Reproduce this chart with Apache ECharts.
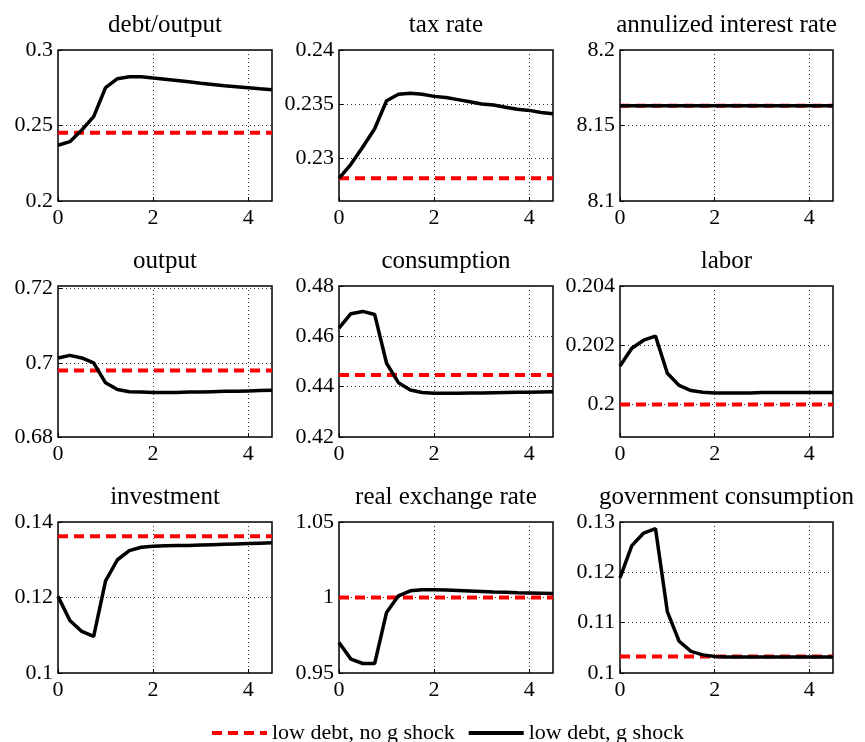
<!DOCTYPE html>
<html><head><meta charset="utf-8">
<script src="https://cdn.jsdelivr.net/npm/echarts@6/dist/echarts.min.js"></script>
<style>html,body{margin:0;padding:0;background:#fff}#c{width:865px;height:742px}</style>
</head><body><div id="c"></div>
<script>
const quarters = [0,0.25,0.5,0.75,1,1.25,1.5,1.75,2,2.25,2.5,2.75,3,3.25,3.5,3.75,4,4.25,4.5];
const panelTitles = ['debt/output','tax rate','annulized interest rate','output','consumption','labor','investment','real exchange rate','government consumption'];
const legendNames = ['low debt, no g shock','low debt, g shock'];
const xTicks = [0,2,4];

// g shock paths
const debtShock = [0.2369,0.2393,0.2470,0.2559,0.2751,0.2810,0.2823,0.2823,0.2815,0.2807,0.2798,0.2789,0.2780,0.2772,0.2764,0.2757,0.2750,0.2743,0.2737];
const taxShock = [0.2281,0.2294,0.2310,0.2327,0.2353,0.2359,0.2360,0.2359,0.2357,0.2356,0.2354,0.2352,0.2350,0.2349,0.2347,0.2345,0.2344,0.2342,0.2341];
const rateShock = [8.163,8.163,8.163,8.163,8.163,8.163,8.163,8.163,8.163,8.163,8.163,8.163,8.163,8.163,8.163,8.163,8.163,8.163,8.163];
const outputShock = [0.7013,0.7020,0.7013,0.7000,0.6946,0.6928,0.6922,0.6921,0.6920,0.6920,0.6920,0.6921,0.6921,0.6922,0.6923,0.6923,0.6924,0.6925,0.6926];
const consShock = [0.4633,0.4690,0.4699,0.4687,0.4493,0.4416,0.4387,0.4377,0.4374,0.4374,0.4374,0.4375,0.4375,0.4376,0.4377,0.4378,0.4378,0.4379,0.4380];
const laborShock = [0.2013,0.2019,0.20217,0.20231,0.20105,0.20064,0.20047,0.20041,0.20039,0.20039,0.20039,0.20039,0.2004,0.2004,0.2004,0.2004,0.2004,0.2004,0.2004];
const invShock = [0.1203,0.1139,0.1110,0.1097,0.1244,0.1300,0.1324,0.1333,0.1336,0.1337,0.1338,0.1338,0.1339,0.1340,0.1341,0.1342,0.1343,0.1344,0.1345];
const rerShock = [0.9702,0.9592,0.9563,0.9563,0.9901,1.0011,1.0044,1.0051,1.0051,1.0049,1.0046,1.0043,1.0040,1.0037,1.0035,1.0032,1.0030,1.0028,1.0026];
const govShock = [0.1189,0.1253,0.1278,0.1287,0.1122,0.1063,0.1043,0.1036,0.1033,0.1032,0.1032,0.1032,0.1032,0.1032,0.1032,0.1032,0.1032,0.1032,0.1032];

// no g shock (steady state) levels
const baseLevels = [0.2452,0.2281,8.163,0.6979,0.4446,0.2000,0.1362,1.0000,0.1033];

// y axes
const yTicks = [[0.2,0.25,0.3],[0.23,0.235,0.24],[8.1,8.15,8.2],[0.68,0.7,0.72],[0.42,0.44,0.46,0.48],[0.2,0.202,0.204],[0.1,0.12,0.14],[0.95,1,1.05],[0.1,0.11,0.12,0.13]];
const yMin = [0.2,0.226,8.1,0.68,0.42,0.1989,0.1,0.95,0.1];
const yMax = [0.3,0.24,8.2,0.7207,0.48,0.204,0.14,1.05,0.13];

const shockSeries = [debtShock,taxShock,rateShock,outputShock,consShock,laborShock,invShock,rerShock,govShock];

const FONT = "'Liberation Serif','Times New Roman',serif";
const colLeft = [58,339,620];
const colWidth = [214,214,213];
const rowTop = [50,286,522];
const gridH = 151;

const grids=[], xAxes=[], yAxes=[], series=[], graphics=[];
for (let i=0;i<9;i++){
  const r=Math.floor(i/3), c=i%3;
  grids.push({left:colLeft[c], top:rowTop[r], width:colWidth[c], height:gridH, show:true, borderColor:'#000', borderWidth:1.5, backgroundColor:'#fff'});
  xAxes.push({type:'value', gridIndex:i, min:0, max:4.5,
    axisLine:{show:false},
    axisTick:{show:true, inside:true, length:4, customValues:xTicks, lineStyle:{color:'#000'}},
    axisLabel:{customValues:xTicks, fontFamily:FONT, fontSize:22, color:'#000', margin:6},
    splitLine:{show:true, lineStyle:{color:'#333', type:[1,3], width:1}}
  });
  yAxes.push({type:'value', gridIndex:i, min:yMin[i], max:yMax[i],
    axisLine:{show:false},
    axisTick:{show:true, inside:true, length:4, customValues:yTicks[i], lineStyle:{color:'#000'}},
    axisLabel:{customValues:yTicks[i], fontFamily:FONT, fontSize:22, color:'#000', margin:5,
      formatter:v=>String(parseFloat(Number(v).toPrecision(6)))},
    splitLine:{show:true, lineStyle:{color:'#333', type:[1,3], width:1}}
  });
  series.push({type:'line', name:legendNames[0], xAxisIndex:i, yAxisIndex:i, symbol:'none', silent:true,
    data: quarters.map(q=>[q, baseLevels[i]]),
    lineStyle:{color:'#ff0000', width:4, type:[10,6]}, itemStyle:{color:'#ff0000'}, z:2});
  series.push({type:'line', name:legendNames[1], xAxisIndex:i, yAxisIndex:i, symbol:'none', silent:true,
    data: quarters.map((q,k)=>[q, shockSeries[i][k]]),
    lineStyle:{color:'#000', width:3.5}, itemStyle:{color:'#000'}, z:3});
  graphics.push({type:'text', x: colLeft[c]+colWidth[c]/2, y: rowTop[r]-25,
    style:{text:panelTitles[i], font:"25px "+FONT, fill:'#000', align:'center', verticalAlign:'middle'}});
}

const chart = echarts.init(document.getElementById('c'), null, {renderer:'canvas'});
chart.setOption({
  animation:false,
  backgroundColor:'#fff',
  grid:grids, xAxis:xAxes, yAxis:yAxes, series:series,
  graphic:graphics,
  legend:{data:legendNames, left:205, top:717, itemWidth:55, itemHeight:14, itemGap:12,
    itemStyle:{opacity:0}, lineStyle:{width:4},
    textStyle:{fontFamily:FONT, fontSize:22, color:'#000'}, selectedMode:false}
});
</script></body></html>
